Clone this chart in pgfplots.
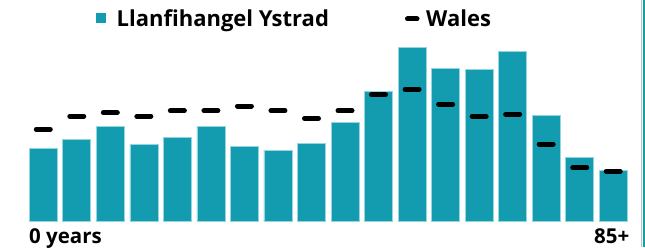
\documentclass[border=0pt]{standalone}
\usepackage{pgfplots}
\pgfplotsset{compat=1.18}
\usepackage{fontspec}
\setmainfont{Open Sans}
\definecolor{barteal}{RGB}{19,155,176}
\definecolor{baredge}{RGB}{150,212,222}
\definecolor{frameteal}{RGB}{20,160,165}
\newcommand{\lblfont}{\fontsize{22}{26}\selectfont\bfseries}
\newcommand{\xlblfont}{\fontsize{20.5}{24}\selectfont\bfseries}
\begin{document}
\begin{tikzpicture}[x=1pt,y=1pt]
\useasboundingbox (0,0) rectangle (645,247);
\begin{axis}[
  at={(26.5pt,26pt)}, anchor=south west,
  scale only axis, width=603.5pt, height=200pt,
  xmin=-0.5, xmax=17.5, ymin=0, ymax=200,
  hide axis, clip=false,
]
\addplot[ybar, bar width=28pt, fill=barteal, draw=baredge, line width=0.6pt] coordinates {
(0,72.7) (1,82) (2,95) (3,76.3) (4,83.7) (5,95) (6,74.7) (7,71) (8,78)
(9,98.7) (10,129.7) (11,173.3) (12,152.7) (13,151.7) (14,169.7) (15,106) (16,64) (17,51)
};
\addplot[only marks, mark=-, mark size=7pt, mark options={line width=5pt, line cap=round, black}] coordinates {
(0,91.7) (1,104.7) (2,108.3) (3,104.7) (4,110.3) (5,110.3) (6,115) (7,110.3) (8,102.7)
(9,110.3) (10,126.3) (11,131.7) (12,117) (13,104.7) (14,106.7) (15,77) (16,53.3) (17,49.7)
};
\end{axis}
% legend
\fill[barteal] (95.7,223.5) rectangle (106.2,234);
\node[anchor=base west, inner sep=0pt, font=\lblfont] at (116.5,220.3) {Llanfihangel Ystrad};
\draw[black, line width=5pt, line cap=round] (407.5,228) -- (417,228);
\node[anchor=base west, inner sep=0pt, font=\lblfont] at (426,220.3) {Wales};
% x labels
\node[anchor=base west, inner sep=0pt, font=\xlblfont] at (29,3.7) {0 years};
\node[anchor=base east, inner sep=0pt, font=\xlblfont] at (629.5,3.7) {85+};
% frame edge
\draw[gray!50, line width=0.6pt] (641.7,0) -- (641.7,247);
\draw[frameteal, line width=1.6pt] (643.7,0) -- (643.7,247);
\end{tikzpicture}
\end{document}
